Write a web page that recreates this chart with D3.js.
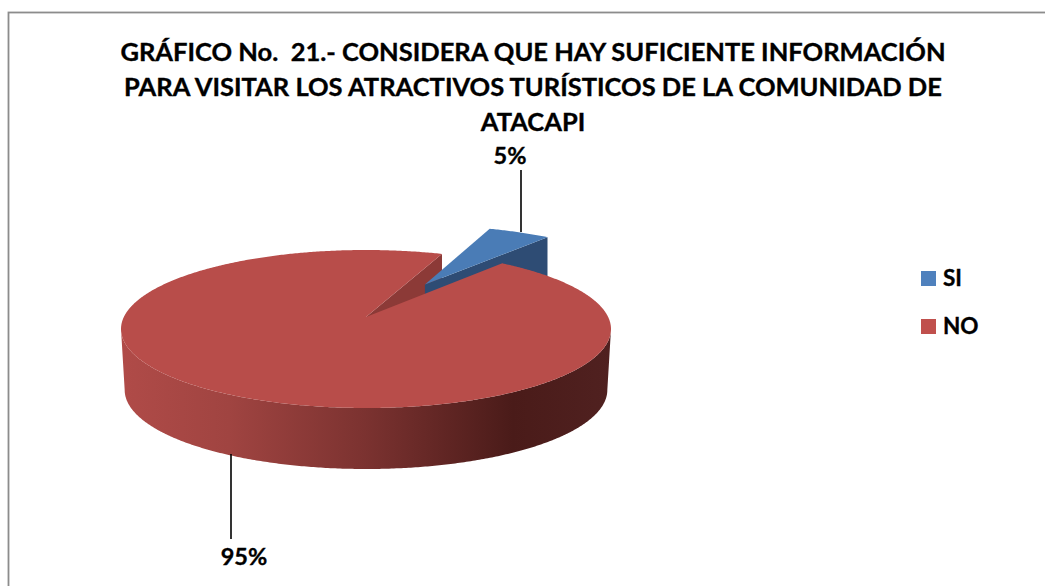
<!DOCTYPE html>
<html>
<head>
<meta charset="utf-8">
<script src="https://cdn.jsdelivr.net/npm/d3@7"></script>
<style>
  html, body { margin: 0; padding: 0; background: #fff; }
  svg { display: block; }
  text { font-family: Lato, "Open Sans", sans-serif; font-weight: 700; fill: #000; stroke: #000; stroke-width: 0.35; white-space: pre; }
</style>
</head>
<body>
<div id="chart"></div>
<script>
  // Chart data
  const categories = ['SI', 'NO'];
  const values = [5, 95];
  const valueLabels = ['5%', '95%'];
  const titleLines = [
    'GRÁFICO No.  21.- CONSIDERA QUE HAY SUFICIENTE INFORMACIÓN',
    'PARA VISITAR LOS ATRACTIVOS TURÍSTICOS DE LA COMUNIDAD DE',
    'ATACAPI'
  ];

  const width = 1045, height = 586;
  const cx = 366, cy = 329, rx = 245, ry = 79, depth = 61;
  const tilt = -0.152;      // perspective shift of the pie centre
  const explode = 0.52;     // how far the SI slice is pulled out
  const deg = Math.PI / 180;

  const svg = d3.select('#chart').append('svg')
    .attr('width', width)
    .attr('height', height);

  const defs = svg.append('defs');
  const sideGrad = defs.append('linearGradient')
    .attr('id', 'side-red')
    .attr('gradientUnits', 'userSpaceOnUse')
    .attr('x1', 121).attr('x2', 611).attr('y1', 0).attr('y2', 0);
  [[0, '#b04b48'], [0.22, '#a04441'], [0.5, '#7b3230'], [0.8, '#4a1b19'], [1, '#502120']]
    .forEach(s => sideGrad.append('stop').attr('offset', s[0]).attr('stop-color', s[1]));

  // Frame: only the top and left edges fall inside the picture
  svg.append('rect')
    .attr('x', 8.5).attr('y', 12.5)
    .attr('width', 1060).attr('height', 590)
    .attr('fill', '#fff')
    .attr('stroke', '#8c8c8c')
    .attr('stroke-width', 1.8);

  // Title
  svg.append('g').selectAll('text').data(titleLines).join('text')
    .attr('x', 533)
    .attr('y', (d, i) => 61 + i * 35)
    .attr('text-anchor', 'middle')
    .attr('font-size', 25.5)
    .text(d => d);

  // Disc point -> screen, with a projective map so the pie keeps its true angles
  function project(u, v) {
    const w = 1 + tilt * v;
    const k = Math.sqrt(1 - tilt * tilt);
    return [cx + rx * u * k / w, cy + ry * (v + tilt) / w];
  }

  function discPoint(angle, off) {
    return project(Math.sin(angle) + off[0], -Math.cos(angle) + off[1]);
  }

  const pie = d3.pie().sort(null).startAngle(21 * deg).endAngle(381 * deg);
  const slices = pie(values);
  const line = d3.line();

  function rim(s, off) {
    const steps = Math.ceil((s.endAngle - s.startAngle) / (0.5 * deg));
    return d3.range(steps + 1).map(i =>
      discPoint(s.startAngle + (s.endAngle - s.startAngle) * i / steps, off));
  }

  const down = p => [p[0], p[1] + depth];
  const [siSlice, noSlice] = slices;
  const mid = (siSlice.startAngle + siSlice.endAngle) / 2;
  const siOff = [explode * Math.sin(mid), -explode * Math.cos(mid)];
  const noOff = [0, 0];

  const noApex = project(0, 0);
  const siApex = project(siOff[0], siOff[1]);
  const noRim = rim(noSlice, noOff);
  const siRim = rim(siSlice, siOff);

  const g = svg.append('g');

  // Cut wall of NO, seen through the gap
  const noEnd = noRim[noRim.length - 1];
  g.append('path')
    .attr('d', line([noApex, noEnd, down(noEnd), down(noApex)]) + 'Z')
    .attr('fill', '#8c3a37');

  // Cut wall of SI
  const siEnd = siRim[siRim.length - 1];
  g.append('path')
    .attr('d', line([siApex, siEnd, down(siEnd), down(siApex)]) + 'Z')
    .attr('fill', '#2e4c74');

  // Top of SI
  g.append('path')
    .attr('d', line([siApex, ...siRim]) + 'Z')
    .attr('fill', '#4a7cb6');

  // Front side of NO
  const front = noRim.filter(p => p[1] >= cy);
  const bottom = front.map(p => [cx + (p[0] - cx) * 0.985, p[1] + depth]);
  g.append('path')
    .attr('d', line([...front, ...bottom.reverse()]) + 'Z')
    .attr('fill', 'url(#side-red)');

  // Top of NO
  g.append('path')
    .attr('d', line([noApex, ...noRim]) + 'Z')
    .attr('fill', '#b84d4a');

  // Leader lines and value labels
  const leaders = [
    { x: 521, y1: 170, y2: 232, tx: 510, ty: 164 },
    { x: 231, y1: 454, y2: 539, tx: 244, ty: 565 }
  ];
  leaders.forEach((l, i) => {
    svg.append('line')
      .attr('x1', l.x).attr('x2', l.x)
      .attr('y1', l.y1).attr('y2', l.y2)
      .attr('stroke', '#000')
      .attr('stroke-width', 1.6);
    svg.append('text')
      .attr('x', l.tx).attr('y', l.ty)
      .attr('text-anchor', 'middle')
      .attr('font-size', 23.5)
      .text(valueLabels[i]);
  });

  // Legend
  const legendColor = d3.scaleOrdinal().domain(categories).range(['#4f81bd', '#c0504d']);
  const legendY = d3.scalePoint().domain(categories).range([271, 319]);
  const legend = svg.append('g').selectAll('g').data(categories).join('g')
    .attr('transform', d => `translate(921,${legendY(d)})`);
  legend.append('rect')
    .attr('width', 15).attr('height', 15)
    .attr('fill', d => legendColor(d));
  legend.append('text')
    .attr('x', 22).attr('y', 15)
    .attr('font-size', 22.5)
    .text(d => d);
</script>
</body>
</html>
